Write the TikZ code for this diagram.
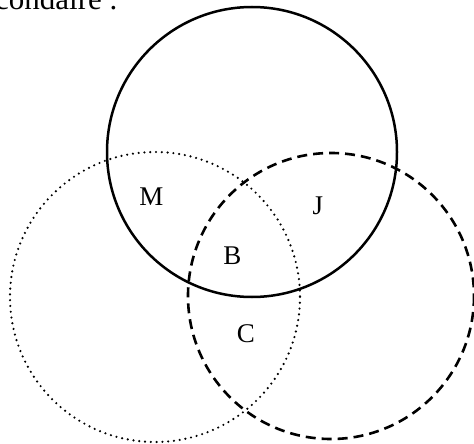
\documentclass[tikz,border=0pt]{standalone}
\usepackage{fontspec}
\setmainfont{Liberation Serif}
\tikzset{
  lbl/.style={font=\fontsize{27}{30}\selectfont, inner sep=0pt},
  solidc/.style={line width=2.5pt},
  dottedc/.style={line width=2.4pt, line cap=round, dash pattern=on 0pt off 5.8pt},
  dashedc/.style={line width=2.6pt, dash pattern=on 10pt off 6pt}
}
\begin{document}
\begin{tikzpicture}[x=1pt,y=-1pt]
\useasboundingbox (0,0) rectangle (474,444);
\node[lbl, anchor=base west, font=\fontsize{31}{34}\selectfont] (top) at (-5,10) {condaire .};
\coordinate (cs) at (252,152);
\coordinate (cd) at (155,297);
\coordinate (cj) at (331,296);
\draw[solidc] (cs) circle[radius=145];
\draw[dottedc] (cd) circle[radius=145];
\draw[dashedc] (cj) circle[radius=143];
\node[lbl] (M) at (151.5,196.5) {M};
\node[lbl] (B) at (232.5,256) {B};
\node[lbl] (J) at (318,206) {J};
\node[lbl] (C) at (246,334) {C};
\end{tikzpicture}
\end{document}
